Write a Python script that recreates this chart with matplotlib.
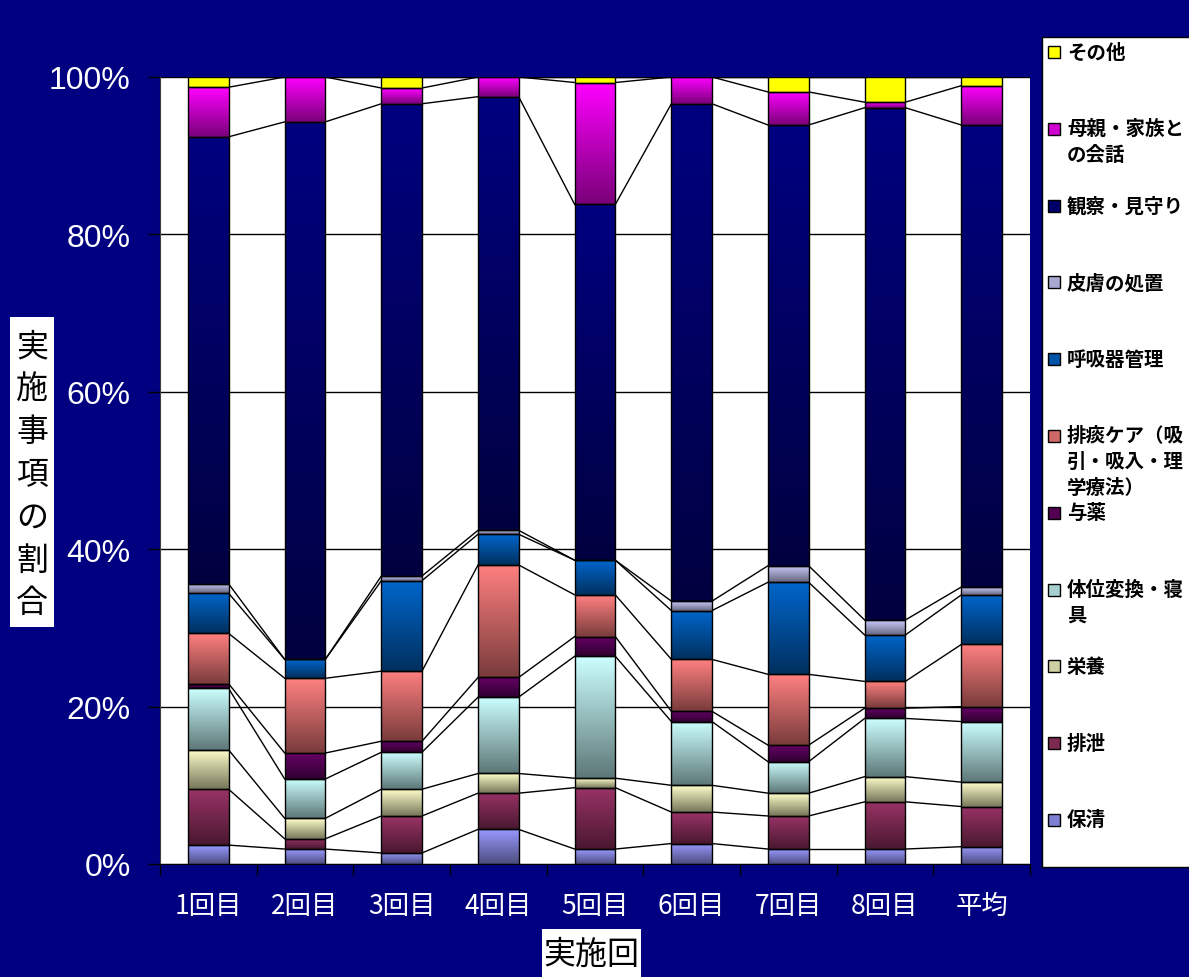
import numpy as np
import matplotlib
matplotlib.use("Agg")
import matplotlib.pyplot as plt
from matplotlib.colors import to_rgb
from matplotlib.patches import Rectangle

plt.rcParams['font.family'] = ['Noto Sans CJK JP', 'DejaVu Sans']

categories = ['1回目', '2回目', '3回目', '4回目', '5回目', '6回目', '7回目', '8回目', '平均']

series_names = ['保清', '排泄', '栄養', '体位変換・寝具', '与薬',
                '排痰ケア（吸引・吸入・理学療法）', '呼吸器管理', '皮膚の処置',
                '観察・見守り', '母親・家族との会話', 'その他']

# values in % (bottom series first)
hosei = [2.4, 1.9, 1.4, 4.4, 1.9, 2.6, 1.9, 1.9, 2.2]
haisetsu = [7.1, 1.3, 4.7, 4.6, 7.8, 4.0, 4.2, 6.0, 5.1]
eiyou = [5.0, 2.6, 3.4, 2.5, 1.2, 3.4, 2.9, 3.2, 3.1]
taii = [7.8, 5.0, 4.7, 9.7, 15.5, 8.1, 4.0, 7.4, 7.7]
yoyaku = [0.6, 3.3, 1.4, 2.5, 2.5, 1.3, 2.1, 1.3, 1.9]
haitan = [6.4, 9.5, 8.9, 14.3, 5.3, 6.6, 9.0, 3.4, 7.9]
kokyuki = [5.1, 2.4, 11.5, 3.9, 4.4, 6.2, 11.7, 5.9, 6.3]
hifu = [1.2, 0.0, 0.6, 0.5, 0.0, 1.2, 2.1, 1.9, 1.0]
kansatsu = [56.8, 68.3, 60.0, 55.1, 45.2, 63.2, 56.0, 65.1, 58.7]
hahaoya = [6.3, 5.7, 2.0, 2.5, 15.5, 3.4, 4.2, 0.7, 5.0]
sonota = [1.3, 0.0, 1.4, 0.0, 0.7, 0.0, 1.9, 3.2, 1.1]

# (top colour, bottom colour) of the gradient fill
colors = [('#9999FF', '#4D4D80'), ('#993366', '#4A1830'), ('#FFFFCC', '#77775A'),
          ('#CCFFFF', '#5E7878'), ('#660066', '#300030'), ('#FF8080', '#7A3C3C'),
          ('#0066CC', '#00305F'), ('#CCCCFF', '#66667F'), ('#000080', '#000040'),
          ('#FF00FF', '#7A007A'), ('#FFFF00', '#FFFF00')]

legend_labels = ['保清', '排泄', '栄養', '体位変換・寝\n具', '与薬',
                 '排痰ケア（吸\n引・吸入・理\n学療法）', '呼吸器管理', '皮膚の処置',
                 '観察・見守り', '母親・家族と\nの会話', 'その他']

data = np.array([hosei, haisetsu, eiyou, taii, yoyaku, haitan, kokyuki, hifu,
                 kansatsu, hahaoya, sonota], dtype=float)
data = data / data.sum(axis=0) * 100
tops = np.cumsum(data, axis=0)
bottoms = tops - data

W, H = 1189, 978
NAVY = '#000080'
fig = plt.figure(figsize=(W / 100, H / 100), dpi=100, facecolor=NAVY)


def fx(px):
    return px / W


def fy(py):
    return 1 - py / H


ax = fig.add_axes([fx(160), fy(865), fx(1030) - fx(160), fy(78) - fy(865)])
ax.set_facecolor('white')

x = np.arange(len(categories))
w = 0.42


def grad(top, bottom, n=64):
    t = np.linspace(0, 1, n)[:, None]
    c = np.array(to_rgb(bottom)) * (1 - t) + np.array(to_rgb(top)) * t
    return c[:, None, :]


for i in range(len(series_names)):
    img = grad(*colors[i])
    for j in range(len(categories)):
        if data[i, j] <= 0:
            continue
        ax.imshow(img, extent=(x[j] - w / 2, x[j] + w / 2, bottoms[i, j], tops[i, j]),
                  origin='lower', aspect='auto', interpolation='bilinear', zorder=2)
    ax.bar(x, data[i], bottom=bottoms[i], width=w, facecolor='none',
           edgecolor='black', linewidth=1, zorder=3)
    # series lines between bars
    for j in range(len(categories) - 1):
        ax.plot([x[j] + w / 2, x[j + 1] - w / 2], [tops[i, j], tops[i, j + 1]],
                color='black', linewidth=1, zorder=1.5)

ax.set_xlim(-0.5, len(categories) - 0.5)
ax.set_ylim(0, 100)

ax.set_yticks([0, 20, 40, 60, 80, 100])
ax.set_yticklabels([f'{v}%' for v in [0, 20, 40, 60, 80, 100]],
                   family=['Liberation Sans', 'DejaVu Sans'], fontsize=23, color='white')
ax.yaxis.grid(True, color='black', linewidth=1)
ax.set_axisbelow(True)
ax.tick_params(axis='y', length=9, width=1, color='black', pad=12)

ax.set_xticks(x)
ax.set_xticklabels(categories, fontsize=19, color='white')
ax.tick_params(axis='x', which='major', length=0, pad=20)
ax.set_xticks(np.arange(-0.5, len(categories)), minor=True)
ax.tick_params(axis='x', which='minor', length=8, width=1, color='black')

for s in ['top', 'right']:
    ax.spines[s].set_visible(False)
ax.spines['left'].set_color('#404040')
ax.spines['bottom'].set_color('black')

# y axis title, one character per line in a white box
fig.patches.append(Rectangle((fx(10), fy(628)), fx(54) - fx(10), fy(318) - fy(628),
                             transform=fig.transFigure, facecolor='white', edgecolor='none'))
ylabel = '実施事項の割合'
for k, ch in enumerate(ylabel):
    fig.text(fx(32), fy(347 + k * 42.7), ch, ha='center', va='center', fontsize=23, color='black')

# x axis title
fig.patches.append(Rectangle((fx(542), 0), fx(641) - fx(542), fy(930),
                             transform=fig.transFigure, facecolor='white', edgecolor='none'))
fig.text(fx(591), fy(955), '実施回', ha='center', va='center', fontsize=23, color='black')

# legend box
fig.patches.append(Rectangle((fx(1042), fy(868)), fx(1195) - fx(1042), fy(38) - fy(868),
                             transform=fig.transFigure, facecolor='white', edgecolor='black',
                             linewidth=1))
for k in range(len(series_names)):
    i = len(series_names) - 1 - k
    yc = 53 + k * 76.8
    top, bottom = colors[i]
    mid = np.array(to_rgb(top)) * 0.65 + np.array(to_rgb(bottom)) * 0.35
    fig.patches.append(Rectangle((fx(1048), fy(yc + 6)), fx(12), fy(0) - fy(12),
                                 transform=fig.transFigure, facecolor=mid,
                                 edgecolor='black', linewidth=1))
    for m, line in enumerate(legend_labels[i].split('\n')):
        fig.text(fx(1067), fy(yc + m * 25.5), line, ha='left', va='center',
                 fontsize=14, fontweight='bold', color='black')

fig.savefig('out.png', dpi=100, facecolor=NAVY)
